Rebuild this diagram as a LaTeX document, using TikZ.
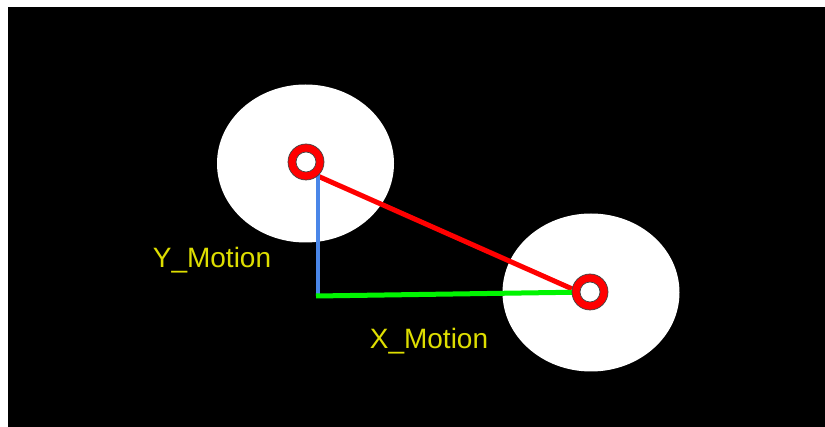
\documentclass[tikz,border=0pt]{standalone}
\usepackage{fontspec}
\setmainfont{Liberation Sans}
\usetikzlibrary{shapes.geometric,backgrounds}
\definecolor{labelyellow}{RGB}{222,222,0}
\definecolor{yblue}{RGB}{74,134,232}
\definecolor{xgreen}{RGB}{0,245,0}
\begin{document}
\begin{tikzpicture}[x=1pt,y=-1pt,
  disc/.style={ellipse,fill=white,minimum width=177,minimum height=158,inner sep=0},
  ring/.style={circle,draw=black!75,line width=0.7,fill=red,minimum size=36,inner sep=0},
  hole/.style={circle,draw=black!75,line width=0.7,fill=white,minimum size=20,inner sep=0},
  motion/.style={text=labelyellow,font=\fontsize{28}{33}\selectfont,anchor=base,inner sep=0}]
\useasboundingbox (0,0) rectangle (825,427);
% ---- hubs (front) ----
\node[ring] (hubA) at (306,162) {};
\node[hole] at (hubA) {};
\node[ring] (hubB) at (590,292) {};
\node[hole] at (hubB) {};
\coordinate (corner) at (318,296);
% ---- background, discs and motion components ----
\begin{scope}[on background layer]
\fill[white] (0,0) rectangle (825,427);
\fill[black] (8,7) rectangle (825,427);
\node[disc] (discA) at (305.5,163.5) {};
\node[disc] (discB) at (591,292.5) {};
\draw[red,line width=5] (hubA.-50) -- (hubB.170);
\draw[yblue,line width=4] (hubA.center -| corner) -- (corner);
\draw[xgreen,line width=5] ([xshift=-2]corner) -- (hubB.center);
\end{scope}
% ---- labels ----
\node[motion] (ylabel) at (212,268) {Y\_Motion};
\node[motion] (xlabel) at (429,349) {X\_Motion};
\end{tikzpicture}
\end{document}
